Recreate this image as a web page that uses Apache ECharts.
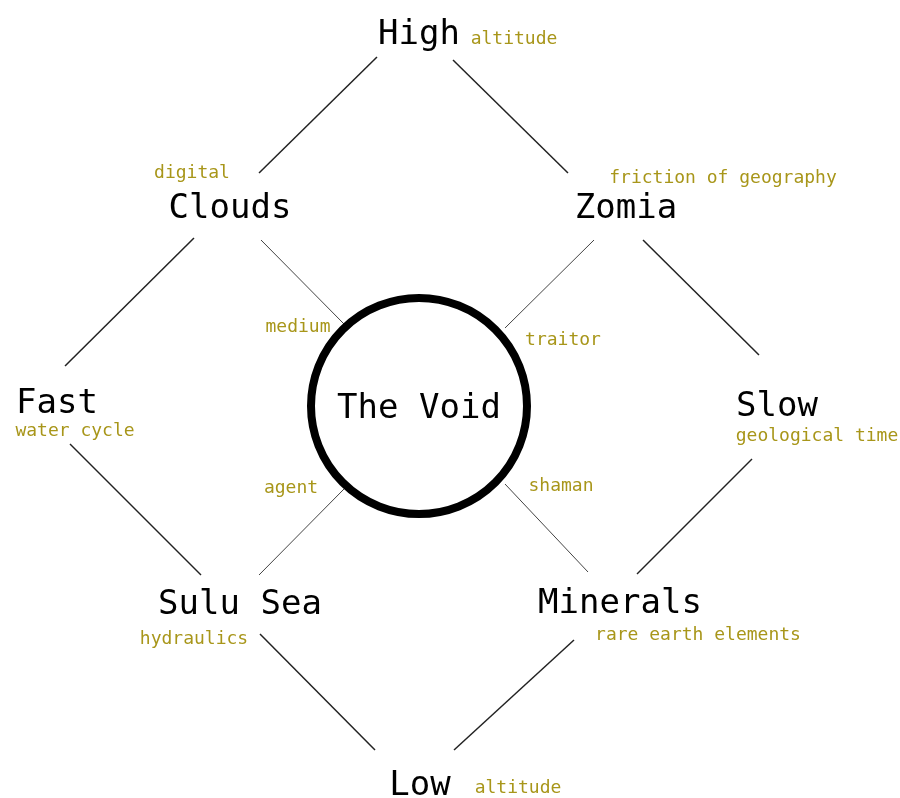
<!DOCTYPE html>
<html>
<head>
<meta charset="utf-8">
<script src="https://cdn.jsdelivr.net/npm/echarts@6/dist/echarts.min.js"></script>
<style>
  html, body { margin: 0; padding: 0; background: #fff; }
  #main { width: 900px; height: 798px; }
</style>
</head>
<body>
<div id="main"></div>
<script>
// big node labels: name, x, y (picture coords)
var nodeNames = ['High', 'Clouds', 'Zomia', 'Fast', 'Slow', 'Sulu Sea', 'Minerals', 'Low', 'The Void']
var nodeX = [419, 230, 626, 57, 777, 240, 620, 420, 419]
var nodeY = [35, 209, 209, 404, 407, 605, 604, 786, 409]

// small olive notes
var noteNames = ['altitude', 'digital', 'friction of geography', 'medium', 'traitor', 'water cycle',
  'geological time', 'agent', 'shaman', 'hydraulics', 'rare earth elements', 'altitude']
var noteX = [514, 192, 723, 298, 563, 75, 817, 291, 561, 194, 698, 518]
var noteY = [39, 173, 178, 327, 340, 431, 436, 488, 486, 639, 635, 788]

// outer edges [x1, y1, x2, y2]
var outerEdges = [
  [377, 57, 259, 173],
  [453, 60, 568, 173],
  [194, 238, 65, 366],
  [643, 240, 759, 355],
  [70, 444, 201, 575],
  [752, 459, 637, 574],
  [260, 634, 375, 750],
  [574, 640, 454, 750]
]
// spokes into the void
var innerEdges = [
  [261, 240, 344, 324],
  [594, 240, 505, 328],
  [344, 489, 259, 575],
  [505, 484, 588, 572]
]

var voidCenter = [419, 406]

var chart = echarts.init(document.getElementById('main'))

function toLines(list) {
  return list.map(function (e) {
    return { coords: [[e[0], e[1]], [e[2], e[3]]] }
  })
}

var option = {
  animation: false,
  backgroundColor: '#fff',
  grid: { left: 0, right: 0, top: 0, bottom: 0 },
  xAxis: { type: 'value', min: 0, max: 900, show: false },
  yAxis: { type: 'value', min: 0, max: 798, inverse: true, show: false },
  series: [
    {
      type: 'lines',
      coordinateSystem: 'cartesian2d',
      lineStyle: { color: '#222', width: 1.5, opacity: 1 },
      data: toLines(outerEdges)
    },
    {
      type: 'lines',
      coordinateSystem: 'cartesian2d',
      lineStyle: { color: '#444', width: 1, opacity: 1 },
      data: toLines(innerEdges)
    },
    {
      type: 'scatter',
      symbol: 'circle',
      symbolSize: 216,
      itemStyle: { color: '#fff', borderColor: '#000', borderWidth: 8, opacity: 1 },
      data: [voidCenter],
      z: 3
    },
    {
      type: 'scatter',
      symbolSize: 0,
      z: 5,
      itemStyle: { opacity: 1 },
      label: {
        show: true,
        position: 'inside',
        fontFamily: 'DejaVu Sans Mono',
        fontSize: 34,
        color: '#000',
        opacity: 1,
        formatter: function (p) { return nodeNames[p.dataIndex] }
      },
      data: nodeX.map(function (x, i) { return [x, nodeY[i]] })
    },
    {
      type: 'scatter',
      symbolSize: 0,
      z: 5,
      itemStyle: { opacity: 1 },
      label: {
        show: true,
        position: 'inside',
        fontFamily: 'DejaVu Sans Mono',
        fontSize: 18,
        color: '#a8961a',
        opacity: 1,
        formatter: function (p) { return noteNames[p.dataIndex] }
      },
      data: noteX.map(function (x, i) { return [x, noteY[i]] })
    }
  ]
}
chart.setOption(option)
</script>
</body>
</html>
